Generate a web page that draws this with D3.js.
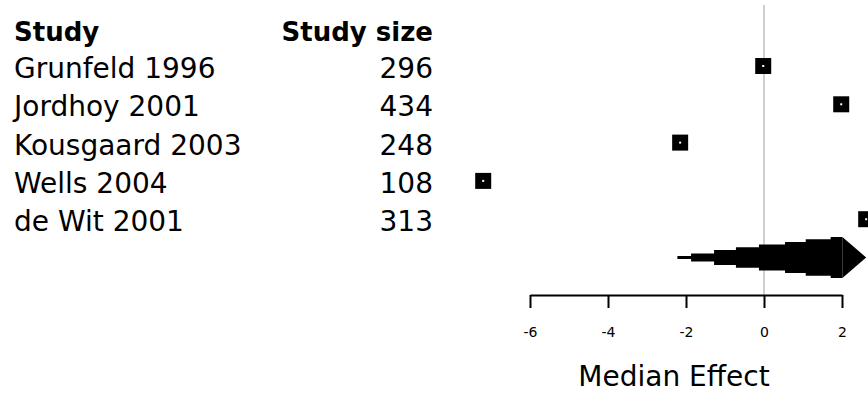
<!DOCTYPE html>
<html>
<head>
<meta charset="utf-8">
<script src="https://cdn.jsdelivr.net/npm/d3@7"></script>
<style>
  html, body { margin: 0; padding: 0; background: #fff; }
  svg { display: block; }
</style>
</head>
<body>
<script>
// ---- data ----
const studies = ["Grunfeld 1996", "Jordhoy 2001", "Kousgaard 2003", "Wells 2004", "de Wit 2001"];
const studySizes = [296, 434, 248, 108, 313];
const effects = [-0.02, 1.98, -2.15, -7.2, 2.62];
const tickValues = [-6, -4, -2, 0, 2];
const headers = ["Study", "Study size"];
const axisTitle = "Median Effect";
// summary (pooled) distribution: effect value and relative density
const summaryX = [-2.22, -1.87, -1.28, -0.72, -0.13, 0.54, 1.07, 1.71, 2.01];
const summaryDensity = [0.07, 0.2, 0.37, 0.5, 0.63, 0.76, 0.89, 1.0, 1.0];
const summaryTipX = [2.01, 2.62];
const summaryTipDensity = [1.0, 0];

// ---- layout ----
const W = 868, H = 394;
const svg = d3.select("body").append("svg").attr("width", W).attr("height", H);

const x = d3.scaleLinear().domain([-6, 2]).range([530, 842]);
const y = d3.scaleLinear().domain([0, 5]).range([66, 257.5]);
const dens = d3.scaleLinear().domain([0, 1]).range([0, 20.5]);
const axisY = 295;

// reference line at zero
svg.append("line")
  .attr("x1", x(0)).attr("x2", x(0))
  .attr("y1", 5).attr("y2", axisY)
  .attr("stroke", "#cfcfcf").attr("stroke-width", 2);

// headers
svg.append("text").text(headers[0])
  .attr("x", 14).attr("y", 41)
  .attr("font-family", "DejaVu Sans").attr("font-weight", "bold").attr("font-size", 26)
  .attr("fill", "#000");
svg.append("text").text(headers[1])
  .attr("x", 433).attr("y", 41).attr("text-anchor", "end")
  .attr("font-family", "DejaVu Sans").attr("font-weight", "bold").attr("font-size", 26)
  .attr("fill", "#000");

// study names and sizes
const rows = svg.append("g");
rows.selectAll("text.name").data(studies).join("text")
  .attr("class", "name")
  .attr("x", 14).attr("y", (d, i) => y(i) + 12)
  .attr("font-family", "DejaVu Sans").attr("font-size", 28).attr("fill", "#000")
  .text(d => d);
rows.selectAll("text.size").data(studySizes).join("text")
  .attr("class", "size")
  .attr("x", 433).attr("y", (d, i) => y(i) + 12).attr("text-anchor", "end")
  .attr("font-family", "DejaVu Sans").attr("font-size", 28).attr("fill", "#000")
  .text(d => d);

// study markers
const sq = 16;
svg.append("g").selectAll("rect").data(effects).join("rect")
  .attr("x", d => x(d) - sq / 2).attr("y", (d, i) => y(i) - sq / 2)
  .attr("width", sq).attr("height", sq).attr("fill", "#000");
svg.append("g").selectAll("rect").data(effects).join("rect")
  .attr("x", d => x(d) - 1).attr("y", (d, i) => y(i) - 1)
  .attr("width", 2).attr("height", 2).attr("fill", "#fff");

// summary shape
const sy = y(5);
const body = summaryX.map((v, i) => [v, summaryDensity[i]]);
const tip = summaryTipX.map((v, i) => [v, summaryTipDensity[i]]);
const areaStep = d3.area()
  .x(d => x(d[0]))
  .y0(d => sy - dens(d[1]))
  .y1(d => sy + dens(d[1]))
  .curve(d3.curveStepAfter);
const areaLin = d3.area()
  .x(d => x(d[0]))
  .y0(d => sy - dens(d[1]))
  .y1(d => sy + dens(d[1]));
svg.append("path").datum(body).attr("d", areaStep).attr("fill", "#000");
svg.append("path").datum(tip).attr("d", areaLin).attr("fill", "#000");

// axis
const axis = d3.axisBottom(x)
  .tickValues(tickValues)
  .tickSize(13)
  .tickSizeOuter(0)
  .tickPadding(19)
  .tickFormat(d => String(d));
const gAxis = svg.append("g").attr("transform", `translate(0,${axisY})`).call(axis);
gAxis.select(".domain").attr("stroke", "#000").attr("stroke-width", 2);
gAxis.selectAll(".tick line").attr("stroke", "#000").attr("stroke-width", 2);
gAxis.selectAll(".tick text")
  .attr("font-family", "DejaVu Sans").attr("font-size", 14).attr("fill", "#000");

// axis title
svg.append("text").text(axisTitle)
  .attr("x", 674).attr("y", 386).attr("text-anchor", "middle")
  .attr("font-family", "DejaVu Sans").attr("font-size", 28).attr("fill", "#000");
</script>
</body>
</html>
